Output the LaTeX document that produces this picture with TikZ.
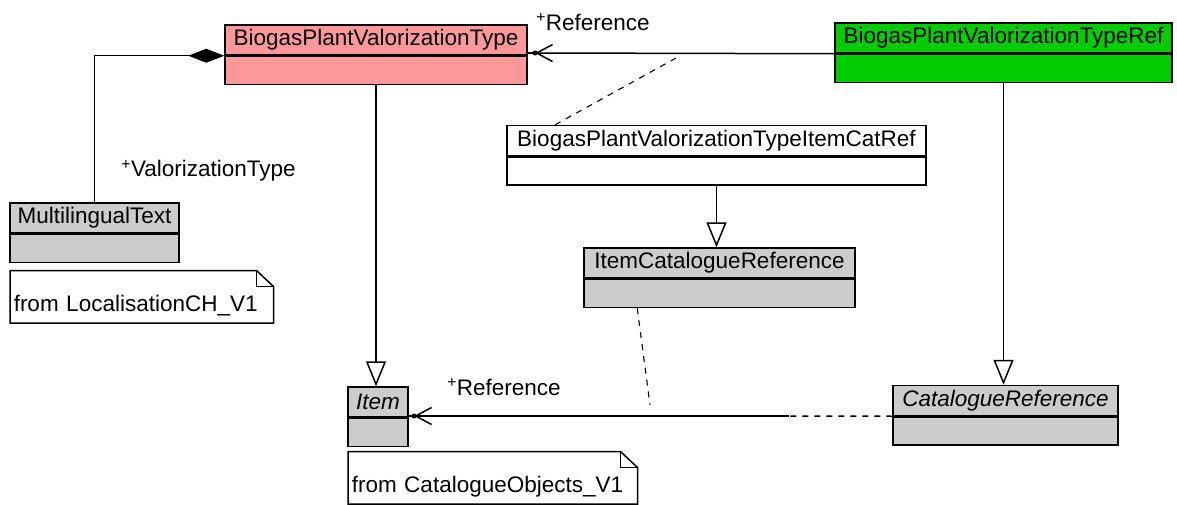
\documentclass[tikz,border=0pt]{standalone}
\usepackage{fontspec}
\setmainfont{Liberation Sans}
\usetikzlibrary{arrows.meta,positioning}
\definecolor{a}{RGB}{255, 153, 153}
\definecolor{b}{RGB}{0, 204, 0}
\definecolor{c}{RGB}{204, 204, 204}

\begin{document}
\begin{tikzpicture}[x=1pt,y=-1pt,line width=1.5pt,
	every node/.style={font=\fontsize{22.5}{27}\selectfont},
	tete/.style={draw,inner sep=0pt,minimum height=30pt},
	corps/.style={draw,inner sep=0pt,minimum height=28pt,below=0pt of #1},
	remarque/.style={align=left,inner xsep=3pt,inner ysep=4.5pt,text height=36pt,text depth=6pt,anchor=south west},
	gen/.style={-{Triangle[open,length=25pt,width=20pt]}},
	asso/.style={-{Straight Barb[length=16pt,width=17pt]}},
	tirets/.style={dash pattern=on 6pt off 6pt}]
			\useasboundingbox (0,0) rectangle (1177,505);
			% les classes
			\node[tete,fill=a,minimum width=302pt] (bpvth) at (376,40) {BiogasPlantValorizationType};
			\node[corps=bpvth,fill=a,minimum width=302pt] (bpvtb) {};
			\node[tete,fill=b,minimum width=337pt] (refh) at (1003.5,38) {BiogasPlantValorizationTypeRef};
			\node[corps=refh,fill=b,minimum width=337pt] (refb) {};
			\node[tete,fill=white,minimum width=419pt] (icrh) at (716.5,140.5) {BiogasPlantValorizationTypeItemCatRef};
			\node[corps=icrh,fill=white,minimum width=419pt] (icrb) {};
			\node[tete,fill=c,minimum width=271pt] (icath) at (719.5,263) {ItemCatalogueReference};
			\node[corps=icath,fill=c,minimum width=271pt] (icatb) {};
			\node[tete,fill=c,minimum width=169pt] (mlh) at (94.5,218) {MultilingualText};
			\node[corps=mlh,fill=c,minimum width=169pt] (mlb) {};
			\node[tete,fill=c,minimum width=60pt] (itemh) at (378,402) {\itshape Item};
			\node[corps=itemh,fill=c,minimum width=60pt] (itemb) {};
			\node[tete,fill=c,minimum width=225pt] (crh) at (1005.5,400.5) {\itshape CatalogueReference};
			\node[corps=crh,fill=c,minimum width=225pt] (crb) {};
			% les notes
			\node[remarque,text width=256pt] (n1) at (10,323) {from LocalisationCH\_V1};
			\draw (n1.south west) -- (n1.north west) -- ([xshift=-17pt]n1.north east) -- ([yshift=-16pt]n1.north east) -- (n1.south east) -- cycle;
			\draw ([xshift=-17pt]n1.north east) |- ([yshift=-16pt]n1.north east);
			\node[remarque,text width=282pt] (n2) at (348,504) {from CatalogueObjects\_V1};
			\draw (n2.south west) -- (n2.north west) -- ([xshift=-17pt]n2.north east) -- ([yshift=-16pt]n2.north east) -- (n2.south east) -- cycle;
			\draw ([xshift=-17pt]n2.north east) |- ([yshift=-16pt]n2.north east);
			% les liens
			\draw[-{Diamond[length=36pt,width=14pt]}] (mlh.north) |- (bpvth.south west);
			\node (lval) at (208.5,171) {\textsuperscript{+}ValorizationType};
			\coordinate (pointe1) at (535,53);
			\draw[asso] (refh.south west) -- (pointe1);
			\draw (pointe1) -- (pointe1 -| bpvth.east);
			\fill (pointe1) circle (2.5);
			\node (lref1) at (593,22) {\textsuperscript{+}Reference};
			\coordinate (milieu) at (676,58);
			\draw[tirets,line width=1.1pt] (milieu) -- ([xshift=49pt]icrh.north west);
			\draw[gen] (icrb.south) -- (icrb.south |- icath.north);
			\draw[gen] (bpvtb.south) -- (bpvtb.south |- itemh.north);
			\draw[gen] (refb.south) -- (refb.south |- crh.north);
			\coordinate (bas) at (650,405);
			\draw[tirets,line width=1.1pt] ([xshift=54pt]icatb.south west) -- (bas);
			\coordinate (coupure) at (789,416);
			\coordinate (pointe2) at (414,416);
			\draw[tirets] (crh.south west) -- (coupure);
			\draw[asso] (coupure) -- (pointe2);
			\draw (pointe2) -- (pointe2 -| itemh.east);
			\fill (pointe2) circle (2.5);
			\node (lref2) at (504,387) {\textsuperscript{+}Reference};
			\end{tikzpicture}
\end{document}
